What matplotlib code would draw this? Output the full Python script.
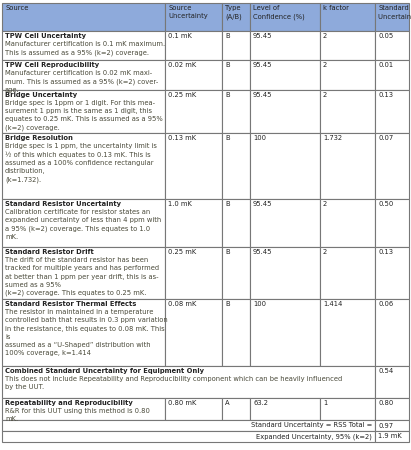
import matplotlib.pyplot as plt
from matplotlib.patches import Rectangle

W, H = 411, 450

headers = ["Source", "Source\nUncertainty", "Type\n(A/B)", "Level of\nConfidence (%)", "k factor",
           "Standard\nUncertainty (mK)"]
names = ["TPW Cell Uncertainty", "TPW Cell Reproducibility", "Bridge Uncertainty", "Bridge Resolution",
         "Standard Resistor Uncertainty", "Standard Resistor Drift", "Standard Resistor Thermal Effects"]
descs = [
    "Manufacturer certification is 0.1 mK maximum.\nThis is assumed as a 95% (k=2) coverage.",
    "Manufacturer certification is 0.02 mK maxi-\nmum. This is assumed as a 95% (k=2) cover-\nage.",
    "Bridge spec is 1ppm or 1 digit. For this mea-\nsurement 1 ppm is the same as 1 digit, this\nequates to 0.25 mK. This is assumed as a 95%\n(k=2) coverage.",
    "Bridge spec is 1 ppm, the uncertainty limit is\n\u00bd of this which equates to 0.13 mK. This is\nassumed as a 100% confidence rectangular\ndistribution,\n(k=1.732).",
    "Calibration certificate for resistor states an\nexpanded uncertainty of less than 4 ppm with\na 95% (k=2) coverage. This equates to 1.0\nmK.",
    "The drift of the standard resistor has been\ntracked for multiple years and has performed\nat better than 1 ppm per year drift, this is as-\nsumed as a 95%\n(k=2) coverage. This equates to 0.25 mK.",
    "The resistor in maintained in a temperature\ncontrolled bath that results in 0.3 ppm variation\nin the resistance, this equates to 0.08 mK. This\nis\nassumed as a \u201cU-Shaped\u201d distribution with\n100% coverage, k=1.414",
]
src_unc = ["0.1 mK", "0.02 mK", "0.25 mK", "0.13 mK", "1.0 mK", "0.25 mK", "0.08 mK"]
types = ["B", "B", "B", "B", "B", "B", "B"]
confidence = ["95.45", "95.45", "95.45", "100", "95.45", "95.45", "100"]
k_factor = ["2", "2", "2", "1.732", "2", "2", "1.414"]
std_unc = ["0.05", "0.01", "0.13", "0.07", "0.50", "0.13", "0.06"]

combined_title = "Combined Standard Uncertainty for Equipment Only"
combined_desc = "This does not include Repeatability and Reproducibility component which can be heavily influenced\nby the UUT."
combined_val = "0.54"
rr_row = ["Repeatability and Reproducibility", "R&R for this UUT using this method is 0.80\nmK.",
          "0.80 mK", "A", "63.2", "1", "0.80"]
totals = [("Standard Uncertainty = RSS Total =", "0.97"), ("Expanded Uncertainty, 95% (k=2)", "1.9 mK")]

cols = [2, 165, 222, 250, 320, 375, 409]
rows = [3, 31, 60, 90, 133, 199, 247, 299, 366, 398, 420, 431, 442]

fig = plt.figure(figsize=(W / 100, H / 100), dpi=100)
ax = fig.add_axes([0, 0, 1, 1])
ax.set_xlim(0, W)
ax.set_ylim(H, 0)
ax.axis("off")

fs = 4.9
dark = "#222222"
grey = "#4a4a3a"
lw = 0.8
lc = "#777777"


def box(x0, x1, y0, y1, fc="white"):
    ax.add_patch(Rectangle((x0, y0), x1 - x0, y1 - y0, fc=fc, ec=lc, lw=lw))


# header
for i, h in enumerate(headers):
    box(cols[i], cols[i + 1], rows[0], rows[1], fc="#8eaadb")
    ax.text(cols[i] + 3, rows[0] + 2, h, fontsize=fs, color=dark, va="top", linespacing=1.4)

# component rows
for r in range(len(names)):
    y0, y1 = rows[r + 1], rows[r + 2]
    for i in range(6):
        box(cols[i], cols[i + 1], y0, y1)
    ax.text(cols[0] + 3, y0 + 2, names[r], fontsize=fs, weight="bold", color=dark, va="top")
    ax.text(cols[0] + 3, y0 + 10, descs[r], fontsize=fs, color=grey, va="top", linespacing=1.45)
    for i, v in enumerate([src_unc[r], types[r], confidence[r], k_factor[r], std_unc[r]]):
        ax.text(cols[i + 1] + 3, y0 + 2, v, fontsize=fs, color=dark, va="top")

# combined row
y0, y1 = rows[8], rows[9]
box(cols[0], cols[5], y0, y1)
box(cols[5], cols[6], y0, y1)
ax.text(cols[0] + 3, y0 + 2, combined_title, fontsize=fs, weight="bold", color=dark, va="top")
ax.text(cols[0] + 3, y0 + 10, combined_desc, fontsize=fs, color=grey, va="top", linespacing=1.45)
ax.text(cols[5] + 3, y0 + 2, combined_val, fontsize=fs, color=dark, va="top")

# R&R row
y0, y1 = rows[9], rows[10]
for i in range(6):
    box(cols[i], cols[i + 1], y0, y1)
ax.text(cols[0] + 3, y0 + 2, rr_row[0], fontsize=fs, weight="bold", color=dark, va="top")
ax.text(cols[0] + 3, y0 + 10, rr_row[1], fontsize=fs, color=grey, va="top", linespacing=1.45)
for i, v in enumerate(rr_row[2:]):
    ax.text(cols[i + 1] + 3, y0 + 2, v, fontsize=fs, color=dark, va="top")

# totals
for j, (label, val) in enumerate(totals):
    y0, y1 = rows[10 + j], rows[11 + j]
    box(cols[0], cols[5], y0, y1)
    box(cols[5], cols[6], y0, y1)
    ax.text(cols[5] - 3, (y0 + y1) / 2, label, fontsize=fs, color=dark, va="center", ha="right")
    ax.text(cols[5] + 3, (y0 + y1) / 2, val, fontsize=fs, color=dark, va="center")

fig.savefig("out.png", dpi=100)
